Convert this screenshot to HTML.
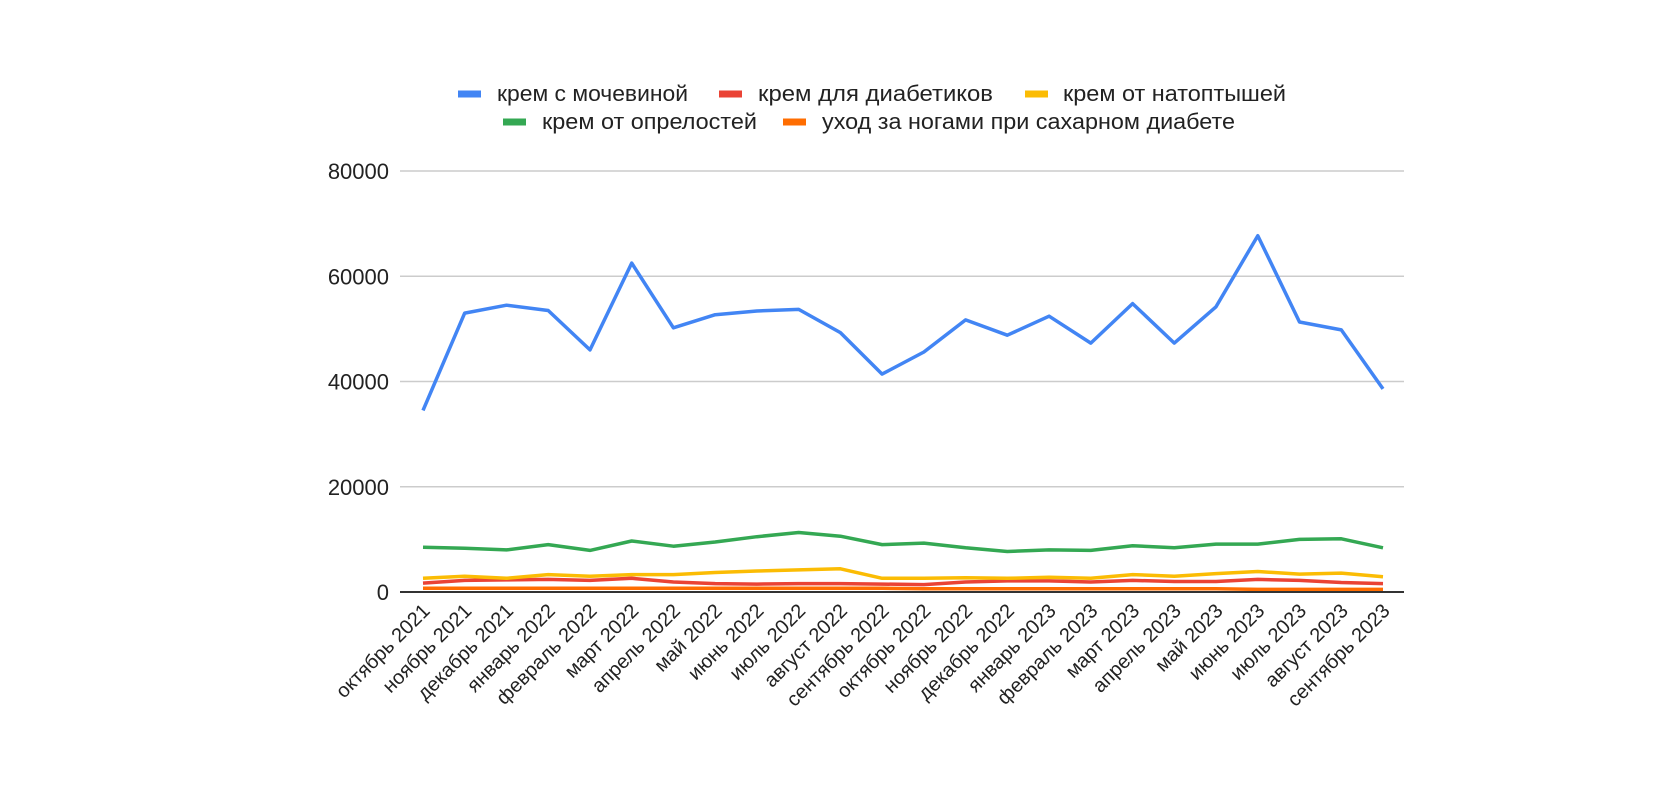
<!DOCTYPE html>
<html><head><meta charset="utf-8"><style>
html,body{margin:0;padding:0;background:#fff;}
svg{display:block;font-family:"Liberation Sans",Arial,sans-serif;}
</style></head><body>
<svg id="chart" width="1680" height="805">
<g id="legend"></g>
<g id="grid"></g>
<g id="yticks"></g>
<g id="series"></g>
<line id="xaxis" x1="400" x2="1404" y1="592" y2="592" stroke="#333" stroke-width="2"/>
<g id="xticks"></g>
</svg>
<script>
const categories=["октябрь 2021","ноябрь 2021","декабрь 2021","январь 2022","февраль 2022","март 2022","апрель 2022","май 2022","июнь 2022","июль 2022","август 2022","сентябрь 2022","октябрь 2022","ноябрь 2022","декабрь 2022","январь 2023","февраль 2023","март 2023","апрель 2023","май 2023","июнь 2023","июль 2023","август 2023","сентябрь 2023"];
const seriesNames=["крем с мочевиной","крем для диабетиков","крем от натоптышей","крем от опрелостей","уход за ногами при сахарном диабете"];
const seriesColors=["#4285f4","#ea4335","#fbbc04","#34a853","#ff6d01"];
const urea=[34500,53000,54500,53500,46000,62500,50200,52700,53400,53700,49300,41400,45600,51700,48800,52400,47300,54800,47300,54200,67700,51300,49800,38600];
const diabetic=[1700,2200,2300,2400,2200,2600,1900,1600,1500,1600,1600,1500,1400,1900,2100,2100,1900,2200,2000,2000,2400,2200,1800,1600];
const calluses=[2600,3000,2600,3300,3000,3300,3300,3700,4000,4200,4400,2600,2600,2700,2600,2800,2600,3300,3000,3500,3900,3400,3600,2900];
const diaperRash=[8500,8300,8000,9000,7900,9700,8700,9500,10500,11300,10600,9000,9300,8400,7700,8000,7900,8800,8400,9100,9100,10000,10100,8400];
const footCare=[700,700,700,700,700,700,700,700,700,700,700,700,600,600,600,600,600,600,600,600,500,500,500,500];
const yTicks=[0,20000,40000,60000,80000];
const NS="http://www.w3.org/2000/svg";
const X0=423,X1=1383,Y0=592,Y80=171;
function xs(i){return X0+i*(X1-X0)/(categories.length-1);}
function ys(v){return Y0-(v/80000)*(Y0-Y80);}
function mk(tag,attrs,parent){const e=document.createElementNS(NS,tag);for(const k in attrs)e.setAttribute(k,attrs[k]);parent.appendChild(e);return e;}
const grid=document.getElementById('grid'),yt=document.getElementById('yticks');
yTicks.forEach(t=>{
 if(t>0){const g=mk('line',{x1:400,x2:1404,y1:ys(t),y2:ys(t),stroke:'#ccc','stroke-width':1.5},grid);
 
 }
 const l=mk('text',{x:389,y:ys(t)+8,'text-anchor':'end','font-size':22,fill:'#222'},yt);
 l.textContent=t;
 
 
});
const xt=document.getElementById('xticks');
categories.forEach((c,i)=>{
 const x=xs(i)+8,y=612;
 const l=mk('text',{x:x,y:y,'text-anchor':'end','font-size':20,fill:'#222',transform:`rotate(-45 ${x} ${y})`},xt);
 l.textContent=c;
 
 
});
const data=[urea,diabetic,calluses,diaperRash,footCare];
const order=[4,1,2,3,0];
const sg=document.getElementById('series');
order.forEach(s=>{
 const pts=data[s].map((v,i)=>xs(i).toFixed(1)+','+ys(v).toFixed(1)).join(' ');
 const p=mk('polyline',{points:pts,fill:'none',stroke:seriesColors[s],'stroke-width':3.5,'stroke-linejoin':'round'},sg);
 
 
});
const lg=document.getElementById('legend');
const legPos=[[458,497,94,191],[719,758,94,235],[1025,1063,94,223],[503,542,122,215],[783,822,122,413]];
seriesNames.forEach((n,i)=>{
 const [sx,tx,cy,w]=legPos[i];
 const r=mk('rect',{x:sx,y:cy-3.5,width:23,height:7,fill:seriesColors[i]},lg);
 
 
 const t=mk('text',{x:tx,y:cy+7,'font-size':22,fill:'#222',textLength:w,lengthAdjust:'spacingAndGlyphs'},lg);
 t.textContent=n;
 
 
});
</script>
</body></html>
